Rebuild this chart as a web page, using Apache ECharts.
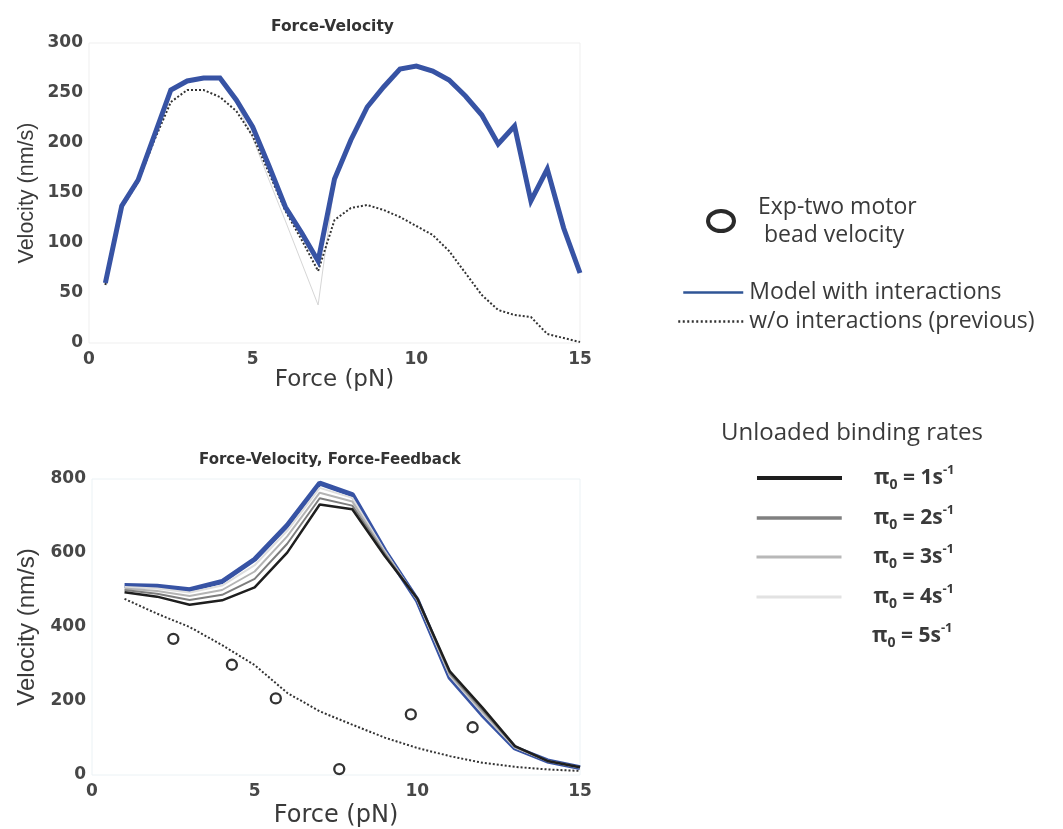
<!DOCTYPE html>
<html>
<head>
<meta charset="utf-8">
<title>Force-Velocity</title>
<script src="https://cdn.jsdelivr.net/npm/echarts@6/dist/echarts.min.js"></script>
<style>
  html, body { margin: 0; padding: 0; background: #fff; }
  #chart { width: 1063px; height: 829px; }
</style>
</head>
<body>
<div id="chart"></div>
<script>
// ---- Top panel: Force-Velocity (nm/s vs pN) ----
const forceTop = [0.5, 1, 1.5, 2, 2.5, 3, 3.5, 4, 4.5, 5, 5.5, 6, 6.5, 7, 7.5,
                  8, 8.5, 9, 9.5, 10, 10.5, 11, 11.5, 12, 12.5, 13, 13.5, 14, 14.5, 15];
const modelTop = [60, 137, 163, 208, 253, 262, 265, 265, 243, 216, 177, 136, 110, 82, 164,
                  203, 236, 256, 274, 277, 272, 263, 247, 228, 199, 217, 142, 174, 115, 70];
const prevTop  = [58, 135, 161, 203, 241, 253, 253, 246, 232, 207, 170, 132, 103, 72, 123,
                  135, 138, 133, 126, 117, 108, 92, 70, 48, 33, 28, 26, 9, 5, 1];
// faint trace under the main curves around the 7 pN dip
const faintForce = [4.5, 5, 5.5, 6, 6.5, 7, 7.5];
const faintVel   = [240, 205, 163, 122, 80, 38, 160];

// ---- Bottom panel: Force-Velocity, Force-Feedback ----
const forceBottom = [1, 2, 3, 4, 5, 6, 7, 8, 9, 10, 11, 12, 13, 14, 15];
const velPi1 = [494, 482, 460, 472, 507, 601, 731, 718, 592, 477, 280, 182, 78, 38, 21];
const velPi2 = [500, 490, 473, 487, 530, 625, 748, 728, 598, 476, 275, 176, 77, 38, 21];
const velPi3 = [504, 497, 484, 500, 550, 645, 763, 739, 602, 474, 271, 171, 75, 38, 20];
const velPi4 = [508, 504, 493, 512, 567, 660, 776, 749, 605, 473, 268, 167, 74, 38, 20];
const velPi5 = [512, 510, 501, 523, 583, 675, 789, 758, 606, 472, 264, 163, 73, 38, 20];
const prevBottom = [476, 436, 400, 351, 297, 222, 172, 136, 101, 73, 51, 33, 22, 15, 11];
const expForce = [2.5, 4.3, 5.65, 7.6, 9.8, 11.7];
const expVel   = [368, 298, 207, 16, 164, 129];

// legend labels
const rateValues = [1, 2, 3, 4, 5];
const rateNames = ['pi0_1', 'pi0_2', 'pi0_3', 'pi0_4', 'pi0_5'];
const NAME_MODEL = 'Model with interactions';
const NAME_PREV = 'w/o interactions (previous)';
const NAME_EXP = 'Exp-two motor bead velocity';

const blue = '#3753a4';
const ink = '#3a3a3a';
const tickColor = '#474747';
const piLineColors = ['#1e1e1e', '#7d7d7d', '#b4b4b4', '#dedede', blue];
const piLegendLine = [
  { color: '#1e1e1e', width: 4 },
  { color: '#808080', width: 3.5 },
  { color: '#b8b8b8', width: 3 },
  { color: '#e2e2e2', width: 3 },
  { color: '#ffffff', width: 0, opacity: 0 }
];
// line legends show only the stroke, no marker
const noMarker = { color: 'transparent', borderWidth: 0, opacity: 0 };

const zip = (xs, ys) => xs.map((x, i) => [x, ys[i]]);

const chart = echarts.init(document.getElementById('chart'), null, { renderer: 'canvas' });

function valueAxis(gridIndex, max, interval, name, isY, nameGap, nameSize) {
  return {
    type: 'value', gridIndex, min: 0, max, interval,
    name, nameLocation: 'middle', nameGap,
    nameTextStyle: isY
      ? { fontFamily: 'Liberation Sans', fontSize: nameSize, color: ink }
      : { fontFamily: 'DejaVu Sans', fontSize: nameSize, color: ink },
    axisLine: { show: false },
    axisTick: { show: false },
    splitLine: { show: false },
    axisLabel: {
      fontFamily: 'DejaVu Sans', fontWeight: 'bold', fontSize: 17,
      color: tickColor, margin: isY ? 6 : 8
    }
  };
}

const legendText = { fontFamily: 'Open Sans', fontSize: 23, color: ink };

const legends = [
  {
    data: [{ name: NAME_EXP, icon: 'path://M0,10A13,10 0 1,1 26,10A13,10 0 1,1 0,10Z' }],
    left: 701, top: 188, itemWidth: 26, itemHeight: 20, selectedMode: false,
    itemStyle: { color: '#ffffff', borderColor: '#2a2a2a', borderWidth: 4 },
    formatter: () => 'Exp-two motor\n bead velocity',
    textStyle: Object.assign({ lineHeight: 28, padding: [0, 0, 0, 19] }, legendText)
  },
  {
    data: [NAME_MODEL], left: 677, top: 276, itemWidth: 60, itemHeight: 14, selectedMode: false,
    lineStyle: { width: 2.5, color: '#2f5596' },
    itemStyle: noMarker,
    textStyle: Object.assign({ padding: [0, 0, 0, 1] }, legendText)
  },
  {
    data: [NAME_PREV], left: 672, top: 305, itemWidth: 65, itemHeight: 14, selectedMode: false,
    lineStyle: { width: 2.5, type: [2, 2.5], color: '#333' },
    itemStyle: noMarker,
    textStyle: Object.assign({ padding: [0, 0, 0, 1] }, legendText)
  }
];

const piRich = {
  p: { fontFamily: 'Open Sans', fontWeight: 'bold', fontSize: 21, color: ink, lineHeight: 28 },
  s: { fontFamily: 'Open Sans', fontWeight: 'bold', fontSize: 14, color: ink, lineHeight: 14, verticalAlign: 'bottom' },
  u: { fontFamily: 'Open Sans', fontWeight: 'bold', fontSize: 13, color: ink, lineHeight: 13, verticalAlign: 'top' }
};
const piTops = [459, 499, 538, 578, 617];
rateNames.forEach((nm, i) => {
  legends.push({
    data: [{ name: nm, lineStyle: piLegendLine[i] }],
    left: 750, top: piTops[i], itemWidth: 85, itemHeight: 10, selectedMode: false,
    itemStyle: noMarker,
    formatter: () => '{p|π}{s|0}{p| = ' + rateValues[i] + 's}{u|-1}',
    textStyle: { padding: [0, 0, 0, 27], rich: piRich }
  });
});

const piSeries = [4, 3, 2, 1, 0].map(i => ({
  name: rateNames[i], type: 'line', xAxisIndex: 1, yAxisIndex: 1,
  data: zip(forceBottom, [velPi1, velPi2, velPi3, velPi4, velPi5][i]),
  symbol: 'none',
  lineStyle: { color: piLineColors[i], width: i === 4 ? 5 : (i === 0 ? 2.5 : 2) },
  itemStyle: { color: piLineColors[i] },
  z: 3
}));

const option = {
  animation: false,
  backgroundColor: '#ffffff',
  title: [
    { text: 'Force-Velocity', left: 266, top: 14,
      textStyle: { fontFamily: 'DejaVu Sans', fontWeight: 'bold', fontSize: 15.5, color: '#333' } },
    { text: 'Force-Velocity, Force-Feedback', left: 194, top: 448,
      textStyle: { fontFamily: 'DejaVu Sans', fontWeight: 'bold', fontSize: 15, color: '#333' } },
    { text: 'Unloaded binding rates', left: 716, top: 416,
      textStyle: { fontFamily: 'Open Sans', fontWeight: 'normal', fontSize: 24, color: ink } }
  ],
  legend: legends,
  grid: [
    { left: 89, top: 43, width: 491, height: 300, show: true, borderColor: '#efefef', borderWidth: 1 },
    { left: 92, top: 479, width: 488, height: 298, show: true, borderColor: '#ebf2f5', borderWidth: 1 }
  ],
  xAxis: [
    valueAxis(0, 15, 5, 'Force (pN)', false, 25, 23),
    valueAxis(1, 15, 5, 'Force (pN)', false, 29, 24)
  ],
  yAxis: [
    valueAxis(0, 300, 50, 'Velocity (nm/s)', true, 51, 21.5),
    valueAxis(1, 800, 200, 'Velocity (nm/s)', true, 53, 24)
  ],
  series: [
    { type: 'line', xAxisIndex: 0, yAxisIndex: 0, data: zip(faintForce, faintVel),
      symbol: 'none', silent: true, lineStyle: { color: '#d6d6d6', width: 1 }, z: 1 },
    { name: NAME_PREV, type: 'line', xAxisIndex: 0, yAxisIndex: 0, data: zip(forceTop, prevTop),
      symbol: 'none', lineStyle: { color: '#333', width: 2, type: [2, 2] },
      itemStyle: { color: '#333' }, z: 2 },
    { name: NAME_MODEL, type: 'line', xAxisIndex: 0, yAxisIndex: 0, data: zip(forceTop, modelTop),
      symbol: 'none', lineStyle: { color: blue, width: 5, join: 'miter' },
      itemStyle: { color: blue }, z: 3 },
    ...piSeries,
    { name: NAME_PREV, type: 'line', xAxisIndex: 1, yAxisIndex: 1, data: zip(forceBottom, prevBottom),
      symbol: 'none', lineStyle: { color: '#333', width: 2, type: [2, 2] },
      itemStyle: { color: '#333' }, z: 2 },
    { name: NAME_EXP, type: 'scatter', xAxisIndex: 1, yAxisIndex: 1, data: zip(expForce, expVel),
      symbol: 'circle', symbolSize: 10,
      itemStyle: { color: '#ffffff', borderColor: '#333', borderWidth: 2.3, opacity: 1 }, z: 5 }
  ]
};

chart.setOption(option);
</script>
</body>
</html>
